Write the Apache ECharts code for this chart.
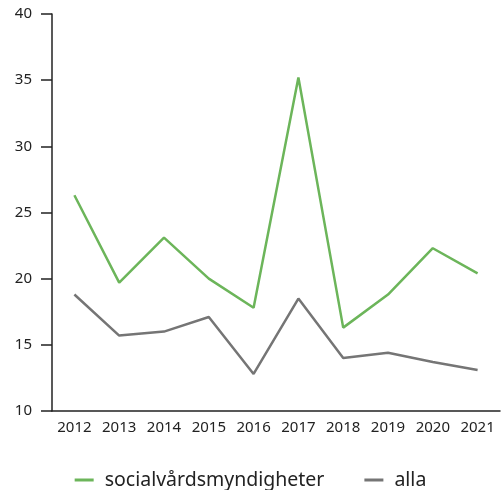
<!DOCTYPE html>
<html>
<head>
<meta charset="utf-8">
<script src="https://cdn.jsdelivr.net/npm/echarts@6/dist/echarts.min.js"></script>
<style>html,body{margin:0;padding:0;background:#fff;}#c{width:501px;height:490px;}</style>
</head>
<body>
<div id="c"></div>
<script>
const categories = ['2012','2013','2014','2015','2016','2017','2018','2019','2020','2021'];
const socialvard = [26.3, 19.7, 23.1, 20.0, 17.8, 35.2, 16.3, 18.8, 22.3, 20.4];
const alla = [18.8, 15.7, 16.0, 17.1, 12.8, 18.5, 14.0, 14.4, 13.7, 13.1];
const seriesNames = ['socialvårdsmyndigheter', 'alla'];

const font = '"Noto Sans", sans-serif';
const chart = echarts.init(document.getElementById('c'), null, {renderer: 'canvas'});
chart.setOption({
  animation: false,
  color: ['#6cb55a', '#757575'],
  grid: {left: 52, right: 1, top: 14, bottom: 79, containLabel: false},
  legend: {
    top: 465, left: 'center',
    itemWidth: 19, itemHeight: 3, itemGap: 40,
    icon: 'rect',
    textStyle: {fontFamily: font, fontSize: 19.5, color: '#222', padding: [0, 0, 0, 6]},
    data: seriesNames
  },
  xAxis: {
    type: 'category', data: categories, boundaryGap: true,
    axisLine: {lineStyle: {color: '#222', width: 1.5}},
    axisTick: {inside: true, length: 10, lineStyle: {color: '#222', width: 1.5}},
    axisLabel: {fontFamily: font, fontSize: 15, color: '#222', margin: 9}
  },
  yAxis: {
    type: 'value', min: 10, max: 40, interval: 5,
    splitLine: {show: false},
    axisLine: {show: true, lineStyle: {color: '#222', width: 1.5}},
    axisTick: {show: true, length: 11, lineStyle: {color: '#222', width: 1.5}},
    axisLabel: {fontFamily: font, fontSize: 15, color: '#222', margin: 20}
  },
  series: [
    {name: seriesNames[0], type: 'line', data: socialvard, symbol: 'none', lineStyle: {width: 2.5}},
    {name: seriesNames[1], type: 'line', data: alla, symbol: 'none', lineStyle: {width: 2.5}}
  ]
});
</script>
</body>
</html>
